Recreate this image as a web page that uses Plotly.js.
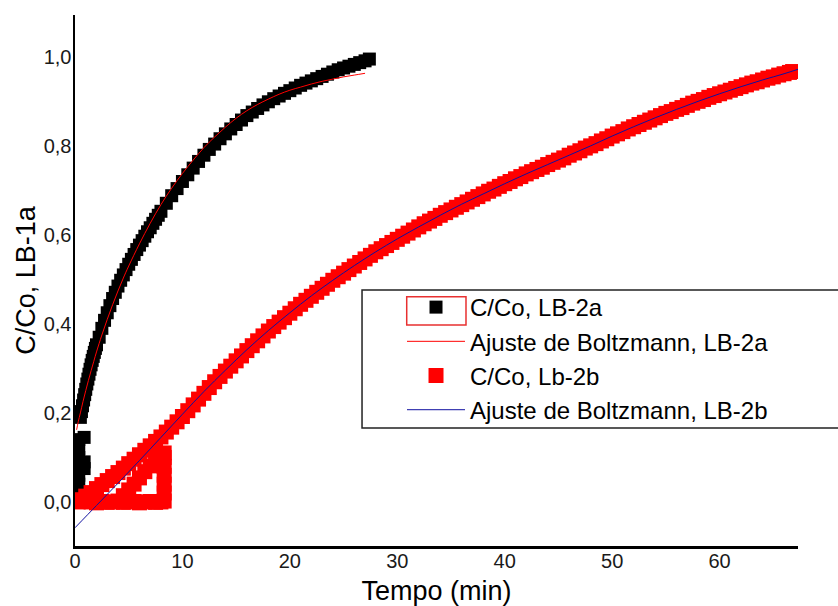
<!DOCTYPE html>
<html><head><meta charset="utf-8">
<script src="https://cdn.plot.ly/plotly-3.0.1.min.js"></script>
<style>html,body{margin:0;padding:0;background:#fff;}#chart{width:838px;height:606px;}</style>
</head><body><div id="chart"></div>
<script>
// ---- Data: C/Co, LB-2a (black squares) ----
const timeA = [
  0.35,0.35,0.35,0.35,0.35,0.35,0.35,0.85,0.85,0.85,
  0.5,0.6,0.7,0.8,0.9,1.0,1.1,1.2,1.3,1.4,1.5,1.6,1.7,1.8,1.9,2.0,
  2.25,2.5,2.75,3,3.25,3.5,3.75,4,4.25,4.5,4.75,5,5.25,5.5,5.75,6,6.25,6.5,6.75,7,7.25,7.5,7.75,8,
  8.5,9,9.5,10,10.5,11,11.5,12,12.5,13,13.5,14,14.5,15,15.5,16,16.5,17,17.5,18,18.5,19,19.5,20,
  20.5,21,21.5,22,22.5,23,23.5,24,24.5,25,25.5,26,26.5,27,27.4
];
const valueA = [
  0.02,0.04,0.06,0.08,0.10,0.12,0.14,0.145,0.09,0.075,
  0.19,0.203,0.216,0.229,0.241,0.253,0.265,0.276,0.287,0.298,0.308,0.318,0.327,0.336,0.345,0.353,
  0.37,0.39,0.408,0.425,0.441,0.457,0.471,0.485,0.498,0.51,0.522,0.534,0.545,0.556,0.567,0.577,0.587,0.597,0.607,0.616,0.626,0.635,0.644,0.653,
  0.671,0.688,0.704,0.72,0.735,0.75,0.765,0.779,0.792,0.804,0.816,0.827,0.838,0.848,0.858,0.868,0.876,0.884,0.892,0.899,0.906,0.912,0.918,0.924,
  0.93,0.936,0.941,0.946,0.951,0.956,0.961,0.966,0.971,0.975,0.979,0.983,0.987,0.991,0.995
];
// ---- Boltzmann fit, LB-2a (red line) ----
const timeFitA = [0.15,0.3,0.5,0.75,1,1.25,1.5,1.75,2,2.5,3,3.5,4,4.5,5,6,7,8,9,10,11,12,13,14,15,16,17,18,19,20,21,22,23,24,25,26,27];
const valueFitA = [0.162,0.18,0.2,0.226,0.25,0.273,0.295,0.316,0.337,0.375,0.41,0.443,0.474,0.503,0.53,0.58,0.626,0.668,0.705,0.738,0.768,0.796,0.82,0.842,0.862,0.879,0.893,0.905,0.916,0.925,0.932,0.939,0.945,0.95,0.955,0.959,0.963];
// ---- Data: C/Co, Lb-2b (red squares) ----
const timeB = [
  0.3,0.5,1,1.5,2,2.5,3,3.5,4,4.5,
  5,5.5,6,6.5,7,7.5,8,8.5,9,9.5,
  10,10.5,11,11.5,12,12.5,13,13.5,14,14.5,
  15,15.5,16,16.5,17,17.5,18,18.5,19,19.5,
  20,20.5,21,21.5,22,22.5,23,23.5,24,24.5,
  25,25.5,26,26.5,27,27.5,28,28.5,29,29.5,
  30,30.5,31,31.5,32,32.5,33,33.5,34,34.5,
  35,35.5,36,36.5,37,37.5,38,38.5,39,39.5,
  40,40.5,41,41.5,42,42.5,43,43.5,44,44.5,
  45,45.5,46,46.5,47,47.5,48,48.5,49,49.5,
  50,50.5,51,51.5,52,52.5,53,53.5,54,54.5,
  55,55.5,56,56.5,57,57.5,58,58.5,59,59.5,
  60,60.5,61,61.5,62,62.5,63,63.5,64,64.5,
  65,65.5,66,66.5,66.8
];
const valueB = [
  0.0,0.005,0.013,0.021,0.03,0.039,0.048,0.057,0.066,0.076,
  0.086,0.096,0.106,0.116,0.126,0.136,0.146,0.157,0.168,0.18,
  0.192,0.205,0.218,0.231,0.244,0.257,0.27,0.282,0.294,0.305,
  0.317,0.328,0.34,0.351,0.362,0.373,0.384,0.394,0.404,0.414,
  0.424,0.434,0.444,0.453,0.462,0.471,0.48,0.489,0.498,0.506,
  0.514,0.522,0.53,0.538,0.546,0.554,0.562,0.569,0.576,0.583,
  0.59,0.597,0.604,0.611,0.618,0.625,0.631,0.637,0.644,0.65,
  0.656,0.662,0.668,0.674,0.68,0.686,0.692,0.698,0.703,0.709,
  0.715,0.72,0.726,0.731,0.737,0.742,0.747,0.752,0.758,0.763,
  0.768,0.773,0.779,0.784,0.789,0.795,0.8,0.805,0.811,0.816,
  0.822,0.827,0.832,0.838,0.843,0.848,0.853,0.858,0.863,0.868,
  0.873,0.877,0.882,0.886,0.891,0.896,0.9,0.904,0.909,0.913,
  0.917,0.921,0.925,0.929,0.933,0.937,0.941,0.944,0.948,0.952,
  0.955,0.959,0.962,0.965,0.967
];
// early scattered readings of Lb-2b
const timeBExtra = [1.5,2,2.5,3,3.5,4,4.5,5,5.5,6,6.5,7,7.5,8,8.3,
  4.5,5,5.5,6,6.5,7,7.5,8,
  8.3,8.3,8.3,8.3,8.3,8.3];
const valueBExtra = [0.0,-0.002,0.001,-0.001,0.0,0.002,-0.001,0.0,0.001,-0.002,0.0,0.001,-0.001,0.0,0.002,
  0.014,0.027,0.04,0.054,0.068,0.081,0.095,0.108,
  0.02,0.04,0.06,0.08,0.10,0.11];
// ---- Boltzmann fit, LB-2b (blue line) ----
const timeFitB = [0,2,4,6,8,10,12,14,16,18,20,22,24,26,28,30,32,34,36,38,40,42,44,46,48,50,52,54,56,58,60,62,64,66,67.3];
const valueFitB = [-0.058,-0.008,0.042,0.093,0.145,0.197,0.248,0.296,0.342,0.385,0.425,0.463,0.498,0.531,0.562,0.591,0.618,0.644,0.669,0.692,0.715,0.737,0.758,0.779,0.8,0.822,0.843,0.863,0.882,0.9,0.917,0.933,0.948,0.962,0.972];

const xTicks = [0,10,20,30,40,50,60];
const yTicks = [0,0.2,0.4,0.6,0.8,1.0];
const seriesNames = ['C/Co, LB-2a','Ajuste de Boltzmann, LB-2a','C/Co, Lb-2b','Ajuste de Boltzmann, LB-2b'];

const traces = [
  {x: timeA, y: valueA, type:'scatter', mode:'markers', name: seriesNames[0],
   marker:{symbol:'square', size:13, color:'#000000', line:{width:0}}},
  {x: timeFitA, y: valueFitA, type:'scatter', mode:'lines', name: seriesNames[1],
   line:{color:'#ff0000', width:1, shape:'spline'}},
  {x: timeB.concat(timeBExtra), y: valueB.concat(valueBExtra), type:'scatter', mode:'markers', name: seriesNames[2],
   marker:{symbol:'square', size:15, color:'#ff0000', line:{width:0}}},
  {x: timeFitB, y: valueFitB, type:'scatter', mode:'lines', name: seriesNames[3],
   line:{color:'#1010a0', width:1, shape:'spline'}}
];

const layout = {
  width: 838, height: 606,
  margin: {l:75, r:40, t:15, b:60},
  paper_bgcolor:'#ffffff', plot_bgcolor:'#ffffff',
  separators: ', ',
  font: {family:'"Liberation Sans", Arial, sans-serif', color:'#000'},
  showlegend: true,
  xaxis: {range:[0,67.3], tickvals:xTicks, showgrid:false, zeroline:false, showline:true,
    linecolor:'#000', linewidth:2.5, ticks:'', tickfont:{size:20, color:'#1a1a1a'}, ticklabelstandoff:-5,
    title:{text:'Tempo (min)', font:{size:27}, standoff:14}, automargin:false, fixedrange:true},
  yaxis: {range:[-0.099,1.094], tickvals:yTicks, tickformat:'.1f', showgrid:false, zeroline:false, showline:true,
    linecolor:'#000', linewidth:2.5, ticks:'', tickfont:{size:20, color:'#1a1a1a'}, ticklabelstandoff:-3,
    title:{text:'C/Co, LB-1a', font:{size:27}, standoff:0}, automargin:false, fixedrange:true},
  legend: {x:0.4523, y:0.4915, xanchor:'left', yanchor:'top', bgcolor:'rgba(0,0,0,0)', borderwidth:0,
    font:{size:24, color:'#000'}, itemwidth:58, tracegroupgap:0},
  shapes: [
    {type:'rect', xref:'paper', yref:'paper', x0:0.397, x1:1.2, y0:0.2222, y1:0.4821, line:{color:'#222', width:1.5}, fillcolor:'rgba(0,0,0,0)'},
    {type:'rect', xref:'paper', yref:'paper', x0:0.4588, x1:0.5408, y0:0.4162, y1:0.4695, line:{color:'#e83030', width:1.5}, fillcolor:'rgba(0,0,0,0)'}
  ]
};
Plotly.newPlot('chart', traces, layout, {displayModeBar:false, staticPlot:true});
</script>
</body></html>
